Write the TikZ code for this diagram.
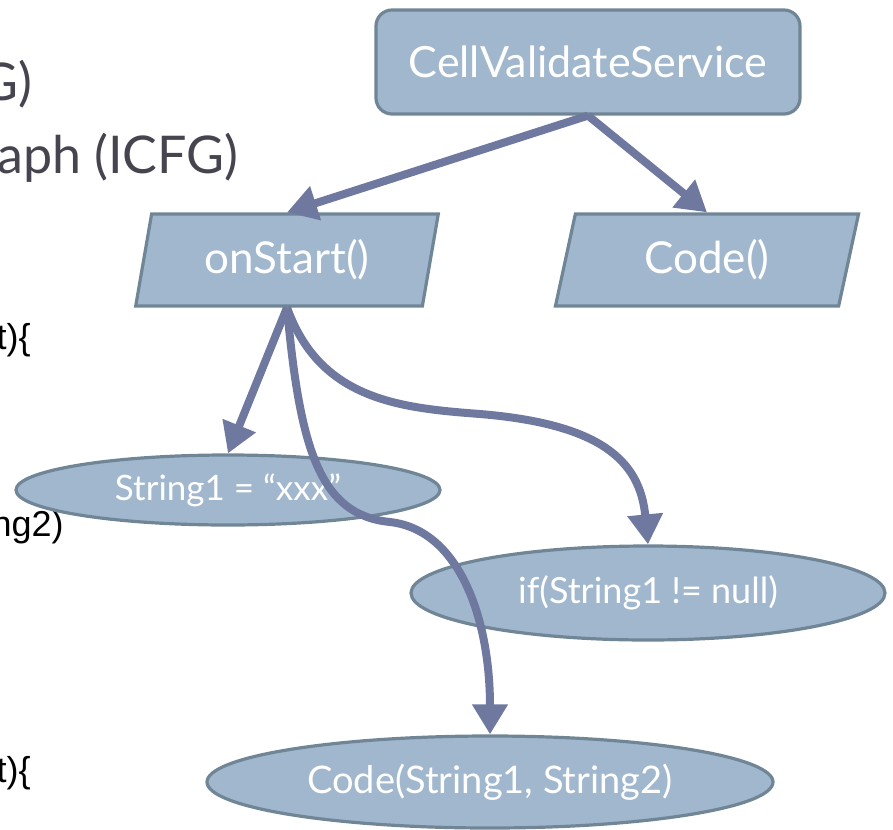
\documentclass[tikz,border=0pt]{standalone}
\usepackage{fontspec}
\setmainfont{Lato}
\newfontfamily\codefont{Liberation Sans}
\usepackage{tikz}
\usetikzlibrary{arrows.meta}
\usetikzlibrary{shapes.geometric}

\definecolor{nodefill}{RGB}{161,183,205}
\definecolor{nodeline}{RGB}{112,133,150}
\definecolor{flowcol}{RGB}{111,121,160}
\definecolor{slidetext}{RGB}{69,68,79}

\begin{document}
\begin{tikzpicture}[x=0.5pt,y=0.5pt,
        box/.style={draw=nodeline,fill=nodefill,line width=1.6pt,text=white},
        para/.style={box,trapezium,trapezium left angle=79,trapezium right angle=101,
                trapezium stretches=true,minimum width=152pt,minimum height=46pt,
                font=\fontsize{22}{26}\selectfont},
        oval/.style={box,ellipse,inner sep=0pt},
        flow/.style={draw=flowcol,line width=4pt,-{Triangle[length=15pt,width=17pt]}},
        slide/.style={text=slidetext,inner sep=0pt,font=\fontsize{26}{30}\selectfont},
        codeline/.style={text=black,inner sep=0pt,font=\codefont\fontsize{18}{21}\selectfont}]
        \useasboundingbox (0,0) rectangle (893,-829);
        \clip (0,0) rectangle (893,-829);
        % text of the slide, cut at the left border
        \node[slide,anchor=base east] (t1) at (33,-100) {G)};
        \node[slide,anchor=base east] (t2) at (239,-173) {aph (ICFG)};
        \node[codeline,anchor=base east] (c1) at (31,-349) {t)\{};
        \node[codeline,anchor=base east] (c2) at (64,-536) {ng2)};
        \node[codeline,anchor=base east] (c3) at (31,-782) {t)\{};
        % call graph
        \node[box,rounded corners=8pt,minimum width=212pt,minimum height=52pt,
                font=\fontsize{21.5}{25}\selectfont] (svc) at (588,-62) {CellValidateService};
        \node[para] (onStart) at (287,-260) {onStart()};
        \node[para] (code) at (707,-260) {Code()};
        \node[oval,minimum width=212pt,minimum height=35pt,
                font=\fontsize{17.5}{20}\selectfont] (s1) at (228,-490) {String1 = “xxx”};
        \node[oval,minimum width=237pt,minimum height=47pt,
                font=\fontsize{18}{21}\selectfont] (ifn) at (648,-593) {if(String1 != null)};
        \node[oval,minimum width=283pt,minimum height=46pt,
                font=\fontsize{19}{22}\selectfont] (call) at (490,-782) {Code(String1, String2)};
        \draw[flow] (svc.south) -- (onStart.north);
        \draw[flow] (svc.south) -- (code.north);
        \draw[flow] (onStart.south) -- (s1.north);
        \draw[flow] (onStart.south) .. controls (320,-400) and (400,-408) .. (480,-414)
                .. controls (600,-424) and (640,-460) .. (ifn.north);
        \draw[flow] (onStart.south) .. controls (300,-450) and (320,-515) .. (390,-522)
                .. controls (460,-530) and (490,-620) .. (call.north);
\end{tikzpicture}
\end{document}
